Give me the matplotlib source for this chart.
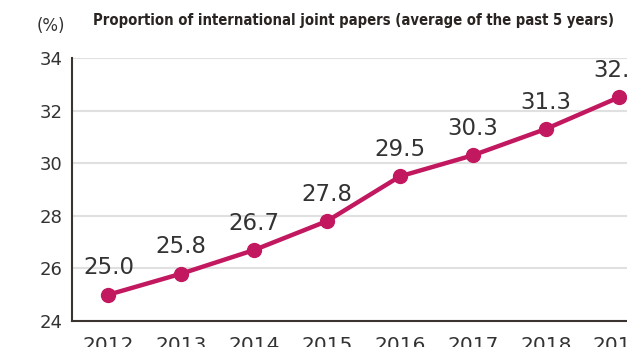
import matplotlib.pyplot as plt

years = ["2012", "2013", "2014", "2015", "2016", "2017", "2018", "2019"]
share = [25.0, 25.8, 26.7, 27.8, 29.5, 30.3, 31.3, 32.5]
yticks = [24, 26, 28, 30, 32, 34]

LINE = "#c2185f"
TXT = "#333333"

fig = plt.figure(figsize=(6.27, 3.47), dpi=100)
ax = fig.add_axes([0.1148, 0.0749, 0.93, 0.758])

x = list(range(len(years)))
ax.plot(x, share, color=LINE, lw=3.2, marker="o", ms=10, zorder=3, clip_on=False)

for xi, v in zip(x, share):
    ax.annotate(f"{v:.1f}", (xi, v), xytext=(0, 11), textcoords="offset points",
                ha="center", va="bottom", fontsize=16.5, color=TXT)

ax.set_xlim(-0.5, 7.5)
ax.set_ylim(24, 34)
ax.set_yticks(yticks)
ax.set_xticks(x)
ax.set_xticklabels(years)
ax.tick_params(axis="both", length=0, colors=TXT)
ax.tick_params(axis="x", pad=11, labelsize=14.5)
ax.tick_params(axis="y", pad=7, labelsize=13)
ax.yaxis.grid(True, color="#e0e0e0", lw=1.5)
ax.set_axisbelow(True)
for s in ["top", "right"]:
    ax.spines[s].set_visible(False)
for s in ["left", "bottom"]:
    ax.spines[s].set_color("#3a3330")
    ax.spines[s].set_linewidth(1.5)

fig.text(0.059, 0.925, "(%)", fontsize=12, color=TXT, ha="left", va="center")
fig.text(0.148, 0.94, "Proportion of international joint papers (average of the past 5 years)",
         fontsize=10.6, fontweight="bold", fontstretch="condensed", color="#2a2522",
         ha="left", va="center", family=["DejaVu Sans"])

fig.savefig("out.png", dpi=100)
